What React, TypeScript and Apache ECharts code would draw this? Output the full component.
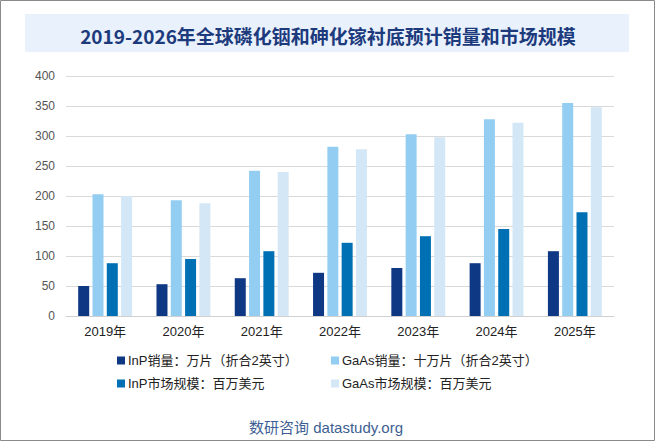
import React, { useEffect, useRef } from "react";
import * as echarts from "echarts";

const categories = ["2019年", "2020年", "2021年", "2022年", "2023年", "2024年", "2025年"];
const inpSales = [50, 53, 63, 72, 80, 88, 108];
const gaasSales = [203, 193, 242, 282, 303, 328, 355];
const inpMarket = [88, 95, 108, 122, 133, 145, 173];
const gaasMarket = [200, 188, 240, 278, 298, 322, 348];
const seriesNames = [
  "InP销量：万片（折合2英寸）",
  "GaAs销量：十万片（折合2英寸）",
  "InP市场规模：百万美元",
  "GaAs市场规模：百万美元",
];
const colors = ["#0e3784", "#93cef2", "#0070b4", "#d4e7f6"];

export default function App() {
  const ref = useRef<HTMLDivElement>(null);
  useEffect(() => {
    if (!ref.current) return;
    const chart = echarts.init(ref.current, undefined, { renderer: "svg" });
    const values = [inpSales, gaasSales, inpMarket, gaasMarket];
    const legendPos = [
      { left: 117, top: 354 },
      { left: 331, top: 354 },
      { left: 117, top: 377 },
      { left: 331, top: 377 },
    ];
    chart.setOption({
      animation: false,
      backgroundColor: "#ffffff",
      textStyle: { fontFamily: "Arial, 'Liberation Sans', 'Noto Sans CJK SC', sans-serif" },
      graphic: [
        {
          type: "rect",
          shape: { x: 0.5, y: 0.5, width: 654, height: 440 },
          style: { fill: "none", stroke: "#8a8a8a", lineWidth: 1 },
          silent: true,
        },
        {
          type: "rect",
          shape: { x: 25, y: 14, width: 604, height: 38 },
          style: { fill: "#e9f1fc" },
          silent: true,
        },
        {
          type: "text",
          x: 328,
          y: 35,
          style: {
            text: "2019-2026年全球磷化铟和砷化镓衬底预计销量和市场规模",
            fill: "#1c3a7c",
            font: "bold 19px 'Noto Sans CJK SC', sans-serif",
            align: "center",
            verticalAlign: "middle",
          },
        },
        {
          type: "text",
          x: 326,
          y: 427,
          style: {
            text: "数研咨询 datastudy.org",
            fill: "#3d5f93",
            font: "15px 'Liberation Sans', 'Noto Sans CJK SC', sans-serif",
            align: "center",
            verticalAlign: "middle",
          },
        },
      ],
      legend: seriesNames.map((n, i) => ({
        data: [n],
        left: legendPos[i].left,
        top: legendPos[i].top,
        icon: "rect",
        itemWidth: 8,
        itemHeight: 8,
        itemGap: 4,
        padding: 0,
        textStyle: { color: "#222", fontSize: 13, padding: [0, 0, 0, -2] },
      })),
      grid: { left: 66, right: 41, top: 76, bottom: 125 },
      xAxis: {
        type: "category",
        data: categories,
        axisLine: { lineStyle: { color: "#d0d0d0", width: 1 } },
        axisTick: { show: false },
        axisLabel: { color: "#222", fontSize: 13, margin: 9 },
      },
      yAxis: {
        type: "value",
        min: 0,
        max: 400,
        interval: 50,
        axisLine: { show: false },
        axisTick: { show: false },
        axisLabel: { color: "#555", fontSize: 12, margin: 11 },
        splitLine: { lineStyle: { color: "#d9d9d9", width: 1 } },
      },
      series: seriesNames.map((n, i) => ({
        name: n,
        type: "bar",
        data: values[i],
        barWidth: 11,
        barGap: "30%",
        itemStyle: { color: colors[i] },
      })),
    });
    return () => chart.dispose();
  }, []);
  return <div ref={ref} style={{ width: 655, height: 441, position: "absolute", left: 0, top: 0 }} />;
}
